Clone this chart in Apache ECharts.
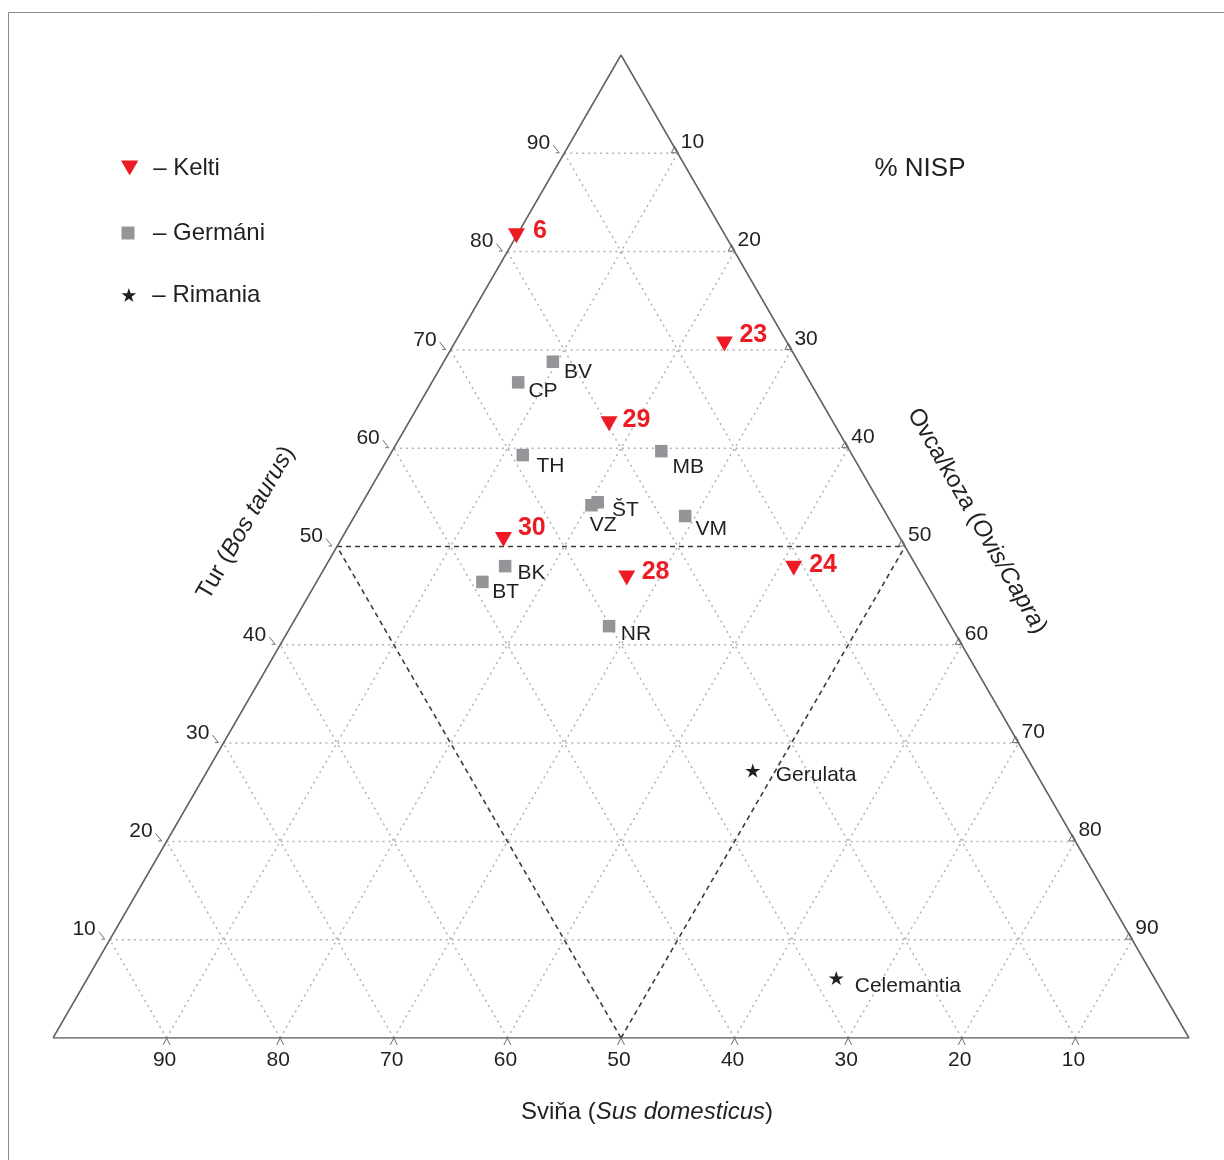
<!DOCTYPE html>
<html>
<head>
<meta charset="utf-8">
<script src="https://cdn.jsdelivr.net/npm/echarts@6/dist/echarts.min.js"></script>
<style>
  html, body { margin: 0; padding: 0; background: #fff; }
  #chart { width: 1224px; height: 1160px; }
</style>
</head>
<body>
<div id="chart"></div>
<script>
// Ternary diagram of livestock shares (% NISP): cattle / sheep-goat / pig.
const ticks = [10, 20, 30, 40, 50, 60, 70, 80, 90];

const keltiNames = ['6', '23', '29', '30', '28', '24'];
const keltiTur   = [81.6, 70.6, 62.5, 50.7, 46.8, 47.8];
const keltiOvca  = [0.0, 23.8, 17.7, 14.3, 27.1, 41.3];
const keltiSvina = [18.4, 5.6, 19.8, 35.0, 26.1, 10.9];

const germaniNames = ['BV', 'CP', 'TH', 'MB', 'ŠT', 'VZ', 'VM', 'BK', 'BT', 'NR'];
const germaniTur   = [68.8, 66.7, 59.3, 59.7, 54.5, 54.2, 53.1, 48.0, 46.4, 41.9];
const germaniOvca  = [9.6, 7.6, 11.7, 23.7, 20.7, 20.3, 29.1, 15.8, 14.6, 28.0];
const germaniSvina = [21.6, 25.7, 29.0, 16.6, 24.8, 25.5, 17.8, 36.2, 39.0, 30.1];

const rimaniaNames = ['Gerulata', 'Celemantia'];
const rimaniaTur   = [27.2, 6.1];
const rimaniaOvca  = [48.0, 65.9];
const rimaniaSvina = [24.8, 28.0];

// Small label nudges so that names sit clear of markers and gridlines.
const labelNudge = {
  '6': [3, -5], '23': [1.5, -9], '29': [0, -4], '30': [1, -12], '28': [1.5, -6], '24': [2, -3],
  'BV': [0, 10.5], 'CP': [-1, 9], 'TH': [2.5, 11], 'MB': [0, 16], 'ŠT': [3, 8],
  'VZ': [-13, 20], 'VM': [-1, 13], 'BK': [1, 7], 'BT': [-1.5, 10.5], 'NR': [0.5, 8],
  'Gerulata': [10.5, 5], 'Celemantia': [6, 8]
};

const FONT = "'Liberation Sans', Arial, Helvetica, sans-serif";
const INK = '#231f20';
const RED = '#ed1c24';
const GREY = '#939598';

const TRI_DOWN = 'path://M0,0L20,0L10,17.32Z';
const SQUARE = 'path://M0,0L10,0L10,10L0,10Z';
const STAR = 'path://M10,0L12.245,6.910L19.511,6.910L13.633,11.180L15.878,18.090L10,13.82L4.122,18.090L6.367,11.180L0.489,6.910L7.755,6.910Z';

// Ternary -> cartesian: x = ovca + tur/2, y = tur (both in %, base = 100).
function toXY(tur, ovca, svina) {
  const s = tur + ovca + svina;
  const t = tur / s * 100, o = ovca / s * 100;
  return [o + t / 2, t];
}

function points(names, tur, ovca, svina) {
  return names.map((n, i) => ({
    name: n,
    value: toXY(tur[i], ovca[i], svina[i]),
    label: { offset: labelNudge[n] || [0, 0] }
  }));
}

// Gridlines: constant Tur (horizontal), constant Ovca, constant Sviňa.
function gridSegments() {
  const minor = [], major = [];
  ticks.forEach(k => {
    const bucket = k === 50 ? major : minor;
    const flag = k === 50 ? 1 : 0;
    bucket.push([k / 2, k, 100 - k / 2, k, flag]);
    bucket.push([k, 0, k + (100 - k) / 2, 100 - k, flag]);
    bucket.push([100 - k, 0, (100 - k) / 2, 100 - k, flag]);
  });
  return minor.concat(major);
}

// Tick positions along the three edges: 0 = Tur (left), 1 = Ovca (right), 2 = Sviňa (bottom).
function tickItems() {
  const out = [];
  ticks.forEach(k => {
    out.push([k / 2, k, 0, k]);
    out.push([k + (100 - k) / 2, 100 - k, 1, k]);
    out.push([100 - k, 0, 2, k]);
  });
  return out;
}

const chart = echarts.init(document.getElementById('chart'), null, { renderer: 'canvas' });

const tickFont = { fill: INK, fontSize: 21, fontFamily: FONT };
const tickStroke = { stroke: '#6d6e71', lineWidth: 1, fill: null };
const legendText = { color: INK, fontSize: 24, fontFamily: FONT };

function titleText(x, y, rotation, plain, italic) {
  return {
    type: 'text', silent: true, x: x, y: y, rotation: rotation,
    style: {
      text: '{n|' + plain + '(}{i|' + italic + '}{n|)}',
      fill: INK, fontSize: 24, fontFamily: FONT,
      align: 'center', verticalAlign: 'middle', textAlign: 'center', textVerticalAlign: 'middle',
      rich: { n: { fill: INK, fontSize: 24, fontFamily: FONT },
              i: { fill: INK, fontSize: 24, fontFamily: FONT, fontStyle: 'italic' } }
    }
  };
}

const option = {
  animation: false,
  backgroundColor: '#ffffff',
  grid: { left: 53, right: 35, top: 55, bottom: 122, containLabel: false },
  xAxis: { type: 'value', min: 0, max: 100, show: false },
  yAxis: { type: 'value', min: 0, max: 100, show: false },
  legend: [
    {
      data: [{ name: 'Kelti', icon: TRI_DOWN }],
      left: 121, top: 156, padding: 0, orient: 'vertical',
      itemWidth: 37, itemHeight: 15, selectedMode: false,
      itemStyle: { opacity: 1 },
      formatter: '– {name}', textStyle: legendText
    },
    {
      data: [{ name: 'Germáni', icon: SQUARE }],
      left: 121.5, top: 221, padding: 0, orient: 'vertical',
      itemWidth: 40, itemHeight: 13, selectedMode: false,
      itemStyle: { opacity: 1 },
      formatter: '– {name}', textStyle: legendText
    },
    {
      data: [{ name: 'Rimania', icon: STAR }],
      left: 121.5, top: 283, padding: 0, orient: 'vertical',
      itemWidth: 37, itemHeight: 14, selectedMode: false,
      itemStyle: { opacity: 1 },
      formatter: '– {name}', textStyle: legendText
    }
  ],
  graphic: [
    { type: 'line', silent: true, shape: { x1: 8.5, y1: 12.5, x2: 1224, y2: 12.5 }, style: { stroke: '#8c8c8c', lineWidth: 1 } },
    { type: 'line', silent: true, shape: { x1: 8.5, y1: 12.5, x2: 8.5, y2: 1160 }, style: { stroke: '#8c8c8c', lineWidth: 1 } },
    {
      type: 'text', silent: true, x: 920, y: 169,
      style: { text: '% NISP', fill: INK, fontSize: 26, fontFamily: FONT,
               align: 'center', verticalAlign: 'middle', textAlign: 'center', textVerticalAlign: 'middle' }
    },
    titleText(647, 1112, 0, 'Sviňa ', 'Sus domesticus'),
    titleText(246, 523, Math.PI / 3, 'Tur ', 'Bos taurus'),
    titleText(977, 521, -Math.PI / 3, 'Ovca/koza ', 'Ovis/Capra')
  ],
  series: [
    {
      // dotted grid plus the dashed 50 % lines
      type: 'custom',
      silent: true,
      z: 1,
      data: gridSegments(),
      encode: { x: [0, 2], y: [1, 3] },
      renderItem: (params, api) => {
        const a = api.coord([api.value(0), api.value(1)]);
        const b = api.coord([api.value(2), api.value(3)]);
        const major = api.value(4) === 1;
        return {
          type: 'line',
          shape: { x1: a[0], y1: a[1], x2: b[0], y2: b[1] },
          style: major
            ? { stroke: '#3c3c3c', lineWidth: 1.6, lineDash: [5, 4] }
            : { stroke: '#b0b1b4', lineWidth: 1.5, lineDash: [2, 4] }
        };
      }
    },
    {
      // triangle outline
      type: 'line',
      silent: true,
      z: 2,
      symbol: 'none',
      lineStyle: { color: '#5f6062', width: 1.5 },
      data: [[0, 0], [100, 0], [50, 100], [0, 0]]
    },
    {
      // tick marks and tick labels on the three edges
      type: 'custom',
      silent: true,
      z: 3,
      data: tickItems(),
      encode: { x: 0, y: 1 },
      renderItem: (params, api) => {
        const p = api.coord([api.value(0), api.value(1)]);
        const side = api.value(2);
        const label = String(api.value(3));
        const x = p[0], y = p[1];
        if (side === 0) {
          return {
            type: 'group',
            children: [
              { type: 'polyline', shape: { points: [[x - 11, y - 8], [x - 5, y - 0.5], [x - 8.5, y - 0.5]] }, style: tickStroke },
              { type: 'text', x: x - 14, y: y - 10,
                style: Object.assign({ text: label, align: 'right', verticalAlign: 'middle', textAlign: 'right', textVerticalAlign: 'middle' }, tickFont) }
            ]
          };
        }
        if (side === 1) {
          return {
            type: 'group',
            children: [
              { type: 'polygon', shape: { points: [[x - 6.5, y - 0.5], [x - 3, y - 7], [x + 0.5, y - 0.5]] }, style: tickStroke },
              { type: 'text', x: x + 3, y: y - 11,
                style: Object.assign({ text: label, align: 'left', verticalAlign: 'middle', textAlign: 'left', textVerticalAlign: 'middle' }, tickFont) }
            ]
          };
        }
        return {
          type: 'group',
          children: [
            { type: 'polyline', shape: { points: [[x - 3.5, y + 7], [x, y], [x + 3.5, y + 7]] }, style: tickStroke },
            { type: 'text', x: x - 2, y: y + 22,
              style: Object.assign({ text: label, align: 'center', verticalAlign: 'middle', textAlign: 'center', textVerticalAlign: 'middle' }, tickFont) }
          ]
        };
      }
    },
    {
      name: 'Germáni',
      type: 'scatter',
      z: 5,
      symbol: 'rect',
      symbolSize: 12.5,
      itemStyle: { color: GREY, opacity: 1 },
      emphasis: { disabled: true },
      label: { show: true, position: 'right', distance: 5, formatter: '{b}', opacity: 1,
               color: INK, fontSize: 21, fontFamily: FONT },
      data: points(germaniNames, germaniTur, germaniOvca, germaniSvina)
    },
    {
      name: 'Kelti',
      type: 'scatter',
      z: 6,
      symbol: TRI_DOWN,
      symbolSize: [17, 15],
      itemStyle: { color: RED, opacity: 1 },
      emphasis: { disabled: true },
      label: { show: true, position: 'right', distance: 5, formatter: '{b}', opacity: 1,
               color: RED, fontSize: 25, fontWeight: 'bold', fontFamily: FONT },
      data: points(keltiNames, keltiTur, keltiOvca, keltiSvina)
    },
    {
      name: 'Rimania',
      type: 'scatter',
      z: 5,
      symbol: STAR,
      symbolSize: [15, 14],
      itemStyle: { color: INK, opacity: 1 },
      emphasis: { disabled: true },
      label: { show: true, position: 'right', distance: 5, formatter: '{b}', opacity: 1,
               color: INK, fontSize: 21, fontFamily: FONT },
      data: points(rimaniaNames, rimaniaTur, rimaniaOvca, rimaniaSvina)
    }
  ]
};

chart.setOption(option);
</script>
</body>
</html>
